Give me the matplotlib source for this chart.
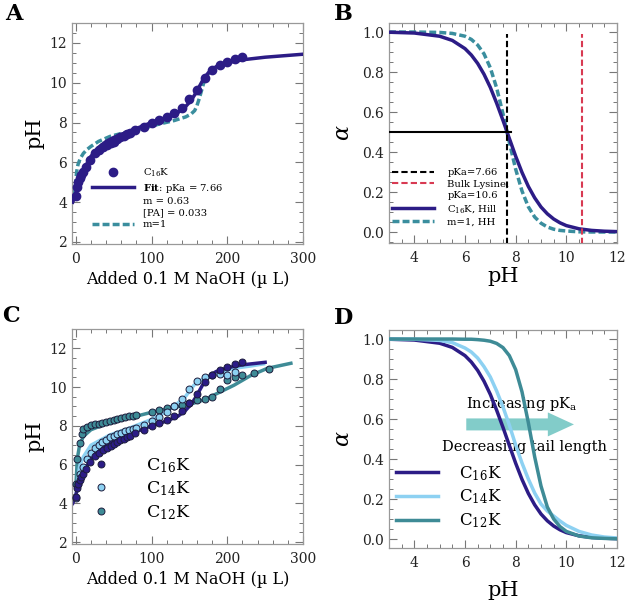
import matplotlib
matplotlib.use("Agg")
import matplotlib.pyplot as plt
from matplotlib.lines import Line2D
from matplotlib.ticker import MultipleLocator

plt.rcParams['font.family'] = ['DejaVu Serif']
plt.rcParams['mathtext.fontset'] = 'dejavuserif'

# ---- data ----
# panel A / C : titration of C16K
c16_x = [0, 2, 3, 5, 7, 10, 14, 19, 25, 31, 36, 41, 46, 50, 54, 58, 63, 67, 72, 78,
         90, 100, 110, 120, 130, 140, 150, 160, 170, 180, 190, 200, 210, 220]
c16_y = [4.31, 4.78, 5.0, 5.2, 5.37, 5.53, 5.78, 6.12, 6.46, 6.62, 6.76, 6.87, 6.96, 7.04,
         7.18, 7.26, 7.33, 7.41, 7.49, 7.63, 7.8, 8.0, 8.15, 8.3, 8.5, 8.75, 9.2, 9.65,
         10.25, 10.65, 10.9, 11.05, 11.2, 11.3]

fit_x = [-4, -2, 0, 2, 5, 10, 15, 20, 30, 40, 50, 60, 80, 100, 120, 135, 145, 152, 158,
         163, 168, 175, 185, 200, 220, 250, 300]
fit_y = [4.0, 4.2, 4.45, 4.7, 5.0, 5.6, 5.95, 6.3, 6.75, 7.05, 7.25, 7.4, 7.7, 8.0, 8.25,
         8.5, 8.8, 9.1, 9.45, 9.8, 10.15, 10.5, 10.8, 11.0, 11.15, 11.28, 11.43]

hh_x = [-2, 0, 1, 3, 6, 10, 15, 20, 30, 45, 65, 90, 110, 130, 145, 152, 157, 160, 163,
        166, 169, 172, 176, 182]
hh_y = [4.3, 5.0, 5.5, 5.9, 6.2, 6.45, 6.65, 6.8, 7.05, 7.3, 7.5, 7.72, 7.92, 8.1, 8.28,
        8.42, 8.6, 8.85, 9.2, 9.6, 10.0, 10.3, 10.5, 10.7]

# panel C : C14K and C12K
c14_x = [0, 3, 6, 10, 15, 20, 25, 30, 35, 40, 45, 50, 55, 60, 65, 70, 75, 80, 90, 100,
         110, 120, 130, 140, 150, 160, 170, 180, 190, 200, 210]
c14_y = [4.3, 5.0, 5.5, 5.9, 6.3, 6.6, 6.85, 7.0, 7.15, 7.28, 7.4, 7.5, 7.58, 7.65, 7.72,
         7.8, 7.85, 7.9, 8.05, 8.25, 8.45, 8.7, 9.0, 9.4, 9.9, 10.3, 10.5, 10.6, 10.7,
         10.6, 10.8]
c14_fit_x = [0, 5, 10, 20, 45, 76, 98, 120, 143, 156, 169, 187, 209, 231, 248]
c14_fit_y = [4.3, 5.9, 6.4, 7.0, 7.53, 7.96, 8.3, 8.74, 9.42, 10.1, 10.45, 10.71, 10.97,
             11.09, 11.2]

c12_x = [0, 2, 5, 8, 10, 15, 20, 25, 30, 35, 40, 45, 50, 55, 60, 65, 70, 75, 80, 100,
         110, 120, 130, 140, 150, 160, 170, 180, 190, 200, 210, 220, 235, 255]
c12_y = [5.0, 6.3, 7.1, 7.6, 7.85, 7.95, 8.02, 8.07, 8.1, 8.15, 8.2, 8.25, 8.3, 8.35, 8.4,
         8.45, 8.5, 8.52, 8.55, 8.7, 8.8, 8.9, 9.0, 9.1, 9.2, 9.35, 9.4, 9.5, 9.9, 10.35,
         10.5, 10.65, 10.75, 10.95]
c12_fit_x = [0, 2, 5, 10, 20, 40, 70, 100, 130, 150, 170, 187, 209, 231, 253, 284]
c12_fit_y = [4.8, 6.3, 7.0, 7.45, 7.8, 8.1, 8.4, 8.7, 8.95, 9.1, 9.35, 9.68, 10.1, 10.6,
             10.97, 11.23]

# panels B / D : degree of protonation vs pH
ph = [3, 4, 5, 5.5, 6, 6.25, 6.5, 6.75, 7, 7.25, 7.5, 7.75, 8, 8.25, 8.5, 8.75, 9,
      9.25, 9.5, 9.75, 10, 10.5, 11, 11.5, 12]
alpha_c16 = [0.999, 0.995, 0.979, 0.958, 0.917, 0.885, 0.843, 0.789, 0.723, 0.644, 0.558,
             0.468, 0.379, 0.298, 0.228, 0.171, 0.125, 0.091, 0.065, 0.046, 0.032, 0.016,
             0.008, 0.004, 0.002]
alpha_hh = [1.0, 1.0, 0.998, 0.993, 0.979, 0.963, 0.935, 0.891, 0.821, 0.720, 0.591, 0.448,
            0.314, 0.205, 0.126, 0.075, 0.044, 0.025, 0.014, 0.008, 0.005, 0.001, 0.0,
            0.0, 0.0]
alpha_c14 = [1.0, 0.999, 0.993, 0.982, 0.955, 0.935, 0.905, 0.862, 0.81, 0.74, 0.66, 0.57,
             0.47, 0.38, 0.30, 0.23, 0.175, 0.14, 0.115, 0.09, 0.068, 0.038, 0.02, 0.01,
             0.005]
alpha_c12 = [1.0, 1.0, 1.0, 1.0, 0.999, 0.999, 0.997, 0.994, 0.989, 0.978, 0.957, 0.917,
             0.847, 0.736, 0.582, 0.411, 0.265, 0.16, 0.10, 0.062, 0.038, 0.015, 0.006,
             0.003, 0.001]
pka_fit = 7.66
pka_bulk = 10.6

navy = '#2c1c86'
teal = '#3a8e9e'
light = '#8dd1f2'
teal12 = '#3e8b96'
red = '#d83a52'
edge = '#1c1c3c'


def style(ax, xmaj, xmin, ymaj, ymin):
    ax.xaxis.set_major_locator(MultipleLocator(xmaj))
    ax.xaxis.set_minor_locator(MultipleLocator(xmin))
    ax.yaxis.set_major_locator(MultipleLocator(ymaj))
    ax.yaxis.set_minor_locator(MultipleLocator(ymin))
    ax.tick_params(which='both', direction='in', top=True, right=True, color='#777777',
                   labelcolor='#222222', labelsize=10)
    ax.tick_params(which='major', length=6, width=0.8)
    ax.tick_params(which='minor', length=3, width=0.7)
    ax.tick_params(axis='x', pad=5.5)
    for s in ax.spines.values():
        s.set_color('#999999')
        s.set_linewidth(0.9)


fig = plt.figure(figsize=(6.25, 6.06), dpi=100)
axA = fig.add_axes([0.1152, 0.5974, 0.3696, 0.3647])
axB = fig.add_axes([0.6224, 0.599, 0.3648, 0.363])
axC = fig.add_axes([0.1152, 0.1023, 0.3696, 0.3548])
axD = fig.add_axes([0.6224, 0.0957, 0.3648, 0.3597])

# ---- A ----
axA.plot(hh_x, hh_y, color=teal, lw=2.5, dashes=(2.0, 0.9), zorder=2)
axA.plot(fit_x, fit_y, color=navy, lw=2.5, zorder=3)
axA.plot(c16_x, c16_y, 'o', color=navy, ms=6, mec=navy, zorder=4)
axA.set_xlim(-5, 300)
axA.set_ylim(1.9, 13)
style(axA, 100, 20, 2, 0.5)
axA.set_xlabel('Added 0.1 M NaOH (µ L)', fontsize=11.5, labelpad=4)
axA.set_ylabel('pH', fontsize=15, labelpad=4)
blank = Line2D([], [], linestyle='none')
hA = [Line2D([], [], marker='o', ls='none', color=navy, ms=6),
      Line2D([], [], color=navy, lw=2.5), blank, blank,
      Line2D([], [], color=teal, lw=2.5, dashes=(2.0, 0.9))]
lA = [r'C$_{16}$K', r'$\mathbf{Fit}$: pKa = 7.66', 'm = 0.63', '[PA] = 0.033', 'm=1']
axA.legend(hA, lA, loc='upper left', bbox_to_anchor=(0.087, 0.35), frameon=False,
           fontsize=7.2, handlelength=4.2, handletextpad=0.9, labelspacing=0.25,
           borderpad=0, borderaxespad=0)

# ---- B ----
axB.plot(ph, alpha_hh, color=teal, lw=2.5, dashes=(2.0, 0.9), zorder=2)
axB.plot(ph, alpha_c16, color=navy, lw=2.5, zorder=3)
axB.plot([3, pka_fit + 0.15], [0.5, 0.5], color='black', lw=1.5, zorder=4)
axB.plot([pka_fit, pka_fit], [-0.06, 0.99], color='black', lw=1.5, dashes=(3, 1.5), zorder=4)
axB.plot([pka_bulk, pka_bulk], [-0.06, 0.99], color=red, lw=1.5, dashes=(3, 1.5), zorder=4)
axB.set_xlim(3, 12)
axB.set_ylim(-0.055, 1.045)
style(axB, 2, 0.5, 0.2, 0.05)
axB.set_xlabel('pH', fontsize=15, labelpad=2)
axB.set_ylabel(r'$\alpha$', fontsize=16, labelpad=6)
hB = [Line2D([], [], color='black', lw=1.5, dashes=(3, 1.5)),
      Line2D([], [], color=red, lw=1.5, dashes=(3, 1.5)), blank,
      Line2D([], [], color=navy, lw=2.5),
      Line2D([], [], color=teal, lw=2.5, dashes=(2.0, 0.9))]
lB = ['pKa=7.66', 'Bulk Lysine,', 'pKa=10.6', r'C$_{16}$K, Hill', 'm=1, HH']
axB.legend(hB, lB, loc='upper left', bbox_to_anchor=(0.013, 0.34), frameon=False,
           fontsize=7.2, handlelength=4.2, handletextpad=1.35, labelspacing=0.25,
           borderpad=0, borderaxespad=0)

# ---- C ----
axC.plot(c12_fit_x, c12_fit_y, color=teal12, lw=2.5, zorder=2)
axC.plot(c14_fit_x, c14_fit_y, color=light, lw=2.5, zorder=2)
axC.plot(fit_x[:-1], fit_y[:-1], color=navy, lw=2.5, zorder=2)
axC.plot(c12_x, c12_y, 'o', color=teal12, ms=5, mec=edge, mew=0.7, zorder=3,
         label=r'C$_{12}$K')
axC.plot(c14_x, c14_y, 'o', color=light, ms=5, mec=edge, mew=0.7, zorder=3,
         label=r'C$_{14}$K')
axC.plot(c16_x, c16_y, 'o', color=navy, ms=5, mec=edge, mew=0.7, zorder=4,
         label=r'C$_{16}$K')
axC.set_xlim(-5, 300)
axC.set_ylim(1.9, 13)
style(axC, 100, 20, 2, 0.5)
axC.set_xlabel('Added 0.1 M NaOH (µ L)', fontsize=11.5, labelpad=4)
axC.set_ylabel('pH', fontsize=15, labelpad=4)
hC, lC = axC.get_legend_handles_labels()
axC.legend(hC[::-1], lC[::-1], loc='upper left', bbox_to_anchor=(0.087, 0.41),
           frameon=False, fontsize=12.5, handlelength=1.0, handletextpad=2.1,
           labelspacing=0.28, borderpad=0, borderaxespad=0)

# ---- D ----
axD.arrow(6.05, 0.573, 4.25, 0, width=0.06, head_width=0.12, head_length=1.03,
          length_includes_head=True, color='#82ccc9', lw=0, zorder=1)
axD.text(6.05, 0.655, r'Increasing pK$_\mathregular{a}$', fontsize=10.5, zorder=1)
axD.text(5.1, 0.44, 'Decreasing tail length', fontsize=10.5, zorder=1)
axD.plot(ph, alpha_c16, color=navy, lw=2.5, zorder=3, label=r'C$_{16}$K')
axD.plot(ph, alpha_c14, color=light, lw=2.5, zorder=3, label=r'C$_{14}$K')
axD.plot(ph, alpha_c12, color=teal12, lw=2.5, zorder=3, label=r'C$_{12}$K')
axD.set_xlim(3, 12)
axD.set_ylim(-0.045, 1.045)
style(axD, 2, 0.5, 0.2, 0.05)
axD.set_xlabel('pH', fontsize=15, labelpad=8)
axD.set_ylabel(r'$\alpha$', fontsize=16, labelpad=6)
axD.legend(loc='upper left', bbox_to_anchor=(0.03, 0.385), frameon=False, fontsize=12,
           handlelength=2.5, handletextpad=1.3, labelspacing=0.3, borderpad=0,
           borderaxespad=0)

for label, x, y in [('A', 0.008, 0.995), ('B', 0.535, 0.995), ('C', 0.004, 0.497),
                    ('D', 0.535, 0.494)]:
    fig.text(x, y, label, fontsize=16, fontweight='bold', va='top', ha='left')

fig.savefig('out.png', dpi=100)
